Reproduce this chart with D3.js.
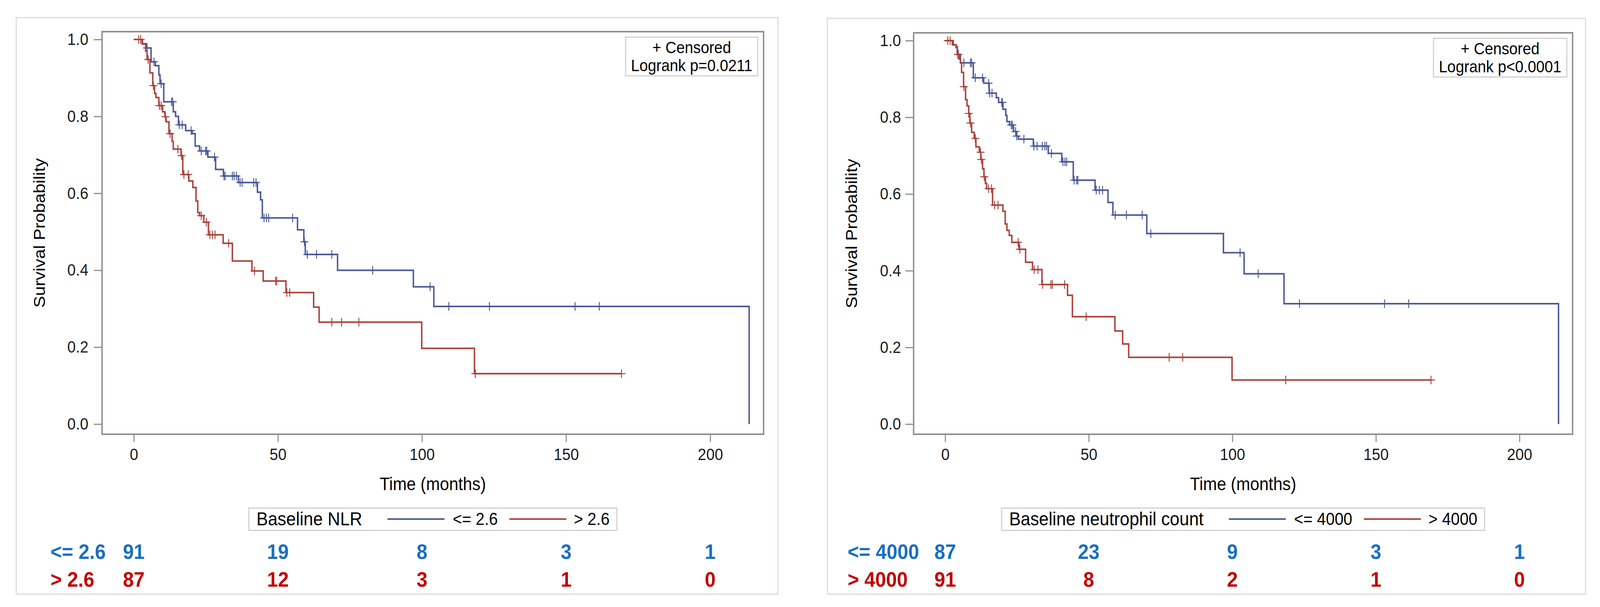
<!DOCTYPE html>
<html>
<head>
<meta charset="utf-8">
<script src="https://cdn.jsdelivr.net/npm/d3@7"></script>
<style>
  html, body { margin: 0; padding: 0; background: #fff; overflow: hidden; }
  svg { display: block; width: 100vw; height: 100vh; }
  svg text { font-family: "Liberation Sans", Arial, sans-serif; }
</style>
</head>
<body>
<div id="chart"></div>
<script>
// ---- data ----
const timeTicks = [0, 50, 100, 150, 200];
const survTicks = [0, 0.2, 0.4, 0.6, 0.8, 1.0];

// Baseline NLR, <= 2.6  [time, survival after step]
const nlrLowSteps = [[0,1.0],[3.0,0.989],[4.4,0.978],[6.0,0.942],[7.5,0.932],[8.7,0.908],[9.1,0.885],[10.4,0.838],
  [13.7,0.812],[14.5,0.800],[15.5,0.778],[18.0,0.763],[20.3,0.755],[21.3,0.723],[22.8,0.710],[25.7,0.694],
  [28.4,0.662],[31.1,0.645],[36.3,0.628],[42.9,0.603],[44.0,0.583],[44.6,0.536],[56.8,0.505],[59.0,0.474],
  [59.5,0.441],[70.7,0.400],[97.0,0.357],[104.1,0.306],[213.5,0.0]];
const nlrLowCensor = [4.6, 7.0, 9.5, 13.1, 13.5, 15.8, 16.8, 19.9, 23.4, 24.9, 25.3, 28.0, 31.3, 31.7, 34.2, 34.8,
  35.6, 36.9, 37.6, 41.6, 42.4, 45.2, 46.0, 46.8, 55.1, 59.2, 60.2, 63.4, 68.7, 82.9, 102.8, 109.3, 123.4, 153.1, 161.5];

// Baseline NLR, > 2.6
const nlrHighSteps = [[0,1.0],[2.9,0.988],[4.1,0.970],[4.6,0.948],[5.6,0.913],[6.6,0.880],[7.2,0.860],[7.7,0.849],
  [8.7,0.828],[10.0,0.812],[10.8,0.799],[11.2,0.786],[12.2,0.755],[13.3,0.735],[13.7,0.715],[16.4,0.698],
  [17.0,0.649],[19.1,0.632],[20.5,0.615],[21.6,0.580],[22.2,0.550],[22.8,0.542],[24.3,0.525],[25.9,0.492],
  [31.0,0.470],[34.2,0.424],[41.0,0.398],[44.9,0.372],[52.8,0.342],[62.4,0.304],[64.3,0.265],[99.9,0.197],
  [118.2,0.131],[169.2,0.131]];
const nlrHighCensor = [1.7, 2.4, 5.0, 6.8, 8.9, 9.5, 11.0, 12.6, 15.3, 16.6, 17.4, 18.9, 23.4, 25.2, 26.4, 27.3,
  28.2, 32.9, 41.9, 49.2, 49.6, 53.1, 54.1, 68.7, 72.1, 78.1, 118.5, 169.2];

// Baseline neutrophil count, <= 4000
const neuLowSteps = [[0,1.0],[2.8,0.989],[3.8,0.982],[4.2,0.964],[5.3,0.942],[9.8,0.903],[13.4,0.889],[15.3,0.863],
  [17.8,0.851],[18.6,0.839],[20.1,0.821],[21.1,0.805],[21.5,0.789],[22.4,0.780],[23.8,0.763],[24.9,0.751],
  [25.5,0.743],[30.7,0.725],[35.9,0.706],[40.6,0.684],[44.6,0.636],[52.2,0.610],[56.7,0.578],[58.4,0.545],
  [70.2,0.497],[96.9,0.447],[104.1,0.392],[118.0,0.314],[213.6,0.0]];
const neuLowCensor = [4.6, 6.5, 8.8, 9.2, 10.5, 13.0, 15.1, 15.5, 16.3, 19.7, 19.9, 23.0, 23.4, 24.5, 24.9, 27.4,
  30.9, 32.0, 33.8, 34.7, 35.3, 37.0, 41.0, 41.7, 42.3, 44.9, 45.8, 46.2, 52.6, 53.7, 54.8, 59.2, 63.1, 68.6, 71.6,
  102.7, 109.0, 123.4, 153.0, 161.4];

// Baseline neutrophil count, > 4000
const neuHighSteps = [[0,1.0],[2.5,0.989],[3.8,0.984],[4.2,0.964],[4.8,0.952],[5.3,0.942],[5.7,0.917],[6.4,0.880],
  [7.1,0.846],[7.6,0.830],[8.2,0.810],[8.6,0.785],[9.2,0.761],[10.1,0.745],[10.7,0.723],[11.9,0.709],[12.4,0.690],
  [13.0,0.666],[13.5,0.645],[14.0,0.628],[14.4,0.614],[16.5,0.571],[20.1,0.555],[20.9,0.522],[21.5,0.505],
  [22.3,0.492],[23.2,0.474],[25.7,0.456],[28.0,0.422],[30.4,0.403],[33.7,0.364],[42.6,0.336],[44.3,0.280],
  [59.1,0.243],[61.8,0.209],[63.9,0.174],[99.9,0.115],[169.2,0.115]];
const neuHighCensor = [0.9, 1.7, 4.4, 6.5, 8.2, 8.8, 10.5, 12.3, 12.6, 13.6, 15.1, 16.1, 17.2, 18.4, 25.4, 26.0,
  31.0, 32.3, 33.9, 36.8, 37.3, 41.6, 49.1, 78.0, 82.7, 118.6, 169.2];

// numbers at risk at 0, 50, 100, 150, 200 months
const nlrRiskLow = [91, 19, 8, 3, 1];
const nlrRiskHigh = [87, 12, 3, 1, 0];
const neuRiskLow = [87, 23, 9, 3, 1];
const neuRiskHigh = [91, 8, 2, 1, 0];

// ---- drawing ----
const blue = "#4a5897", red = "#a8423a";
const riskBlue = "#1a6fc0", riskRed = "#c00000";
const frameGrey = "#8f8f8f";

// drawn in a fixed 4436x1553 coordinate space, stretched to fill the window
const svg = d3.select("#chart").append("svg")
  .attr("viewBox", "0 0 4436 1553")
  .attr("preserveAspectRatio", "none");

function drawPanel(p){
  const g = svg.append("g");

  // outer panel border
  g.append("rect")
    .attr("x", p.box[0]).attr("y", p.box[1])
    .attr("width", p.box[2] - p.box[0]).attr("height", p.box[3] - p.box[1])
    .attr("fill", "none").attr("stroke", "#dadada").attr("stroke-width", 3);

  const xScale = d3.scaleLinear().domain([-11, 218.5]).range([p.left, p.right]);
  const yScale = d3.scaleLinear().domain([-0.0264, 1.0203]).range([p.bottom, p.top]);

  const yAxis = d3.axisLeft(yScale).tickValues(survTicks).tickFormat(d3.format(".1f"))
    .tickSize(23).tickPadding(p.yPad);
  const xAxis = d3.axisBottom(xScale).tickValues(timeTicks).tickSize(20).tickPadding(16);

  const y_axis = g.append("g").attr("transform", `translate(${p.left},0)`).call(yAxis);
  const x_axis = g.append("g").attr("transform", `translate(0,${p.bottom})`).call(xAxis);
  [x_axis, y_axis].forEach(ax => {
    ax.select(".domain").remove();
    ax.selectAll(".tick line").attr("stroke", frameGrey).attr("stroke-width", 3);
    ax.selectAll(".tick text").attr("font-size", 42).attr("fill", "#1a1a1a")
      .attr("font-family", "Liberation Sans, Arial, sans-serif");
  });

  // plot frame
  g.append("rect")
    .attr("x", p.left).attr("y", p.top)
    .attr("width", p.right - p.left).attr("height", p.bottom - p.top)
    .attr("fill", "none").attr("stroke", frameGrey).attr("stroke-width", 4);

  const line = d3.line().x(d => xScale(d[0])).y(d => yScale(d[1])).curve(d3.curveStepAfter);
  const bis = d3.bisector(d => d[0]).right;

  p.curves.forEach(c => {
    g.append("path").datum(c.steps)
      .attr("d", line).attr("fill", "none")
      .attr("stroke", c.color).attr("stroke-width", 4);

    const marks = c.censor.map(t => {
      const i = Math.max(0, bis(c.steps, t) - 1);
      return [xScale(t), yScale(c.steps[i][1])];
    });
    g.append("g").selectAll("path").data(marks).join("path")
      .attr("d", d => `M${d[0]-11},${d[1]}H${d[0]+11}M${d[0]},${d[1]-11}V${d[1]+11}`)
      .attr("stroke", c.color).attr("stroke-width", 2.5).attr("fill", "none");
  });

  // inset legend (top right)
  const inset = g.append("g");
  const t1 = inset.append("text").text("+ Censored").attr("font-size", 42).attr("text-anchor", "middle");
  const t2 = inset.append("text").text(p.logrank).attr("font-size", 42).attr("text-anchor", "middle");
  const iw = Math.max(t1.node().getComputedTextLength(), t2.node().getComputedTextLength()) + 30;
  const ix = p.right - 16 - iw, iy = p.top + 14;
  inset.insert("rect", "text")
    .attr("x", ix).attr("y", iy).attr("width", iw).attr("height", 99)
    .attr("fill", "#fff").attr("stroke", "#cfcfcf").attr("stroke-width", 3);
  t1.attr("x", ix + iw / 2).attr("y", iy + 41);
  t2.attr("x", ix + iw / 2).attr("y", iy + 87);

  // axis titles
  g.append("text").text("Time (months)")
    .attr("x", (p.left + p.right) / 2).attr("y", 1254)
    .attr("text-anchor", "middle").attr("font-size", 46);
  g.append("text").text("Survival Probability")
    .attr("transform", `translate(${p.ytitleX},${(p.top + p.bottom) / 2}) rotate(-90)`)
    .attr("text-anchor", "middle").attr("font-size", 45);

  // group legend under the axis
  const leg = g.append("g");
  const lt = leg.append("text").text(p.legendTitle).attr("font-size", 48).attr("y", 1344);
  const l1 = leg.append("text").text(p.labels[0]).attr("font-size", 44).attr("y", 1343);
  const l2 = leg.append("text").text(p.labels[1]).attr("font-size", 44).attr("y", 1343);
  const wT = lt.node().getComputedTextLength();
  const w1 = l1.node().getComputedTextLength();
  const w2 = l2.node().getComputedTextLength();
  const segW = 158;
  const total = 21 + wT + 70 + segW + 23 + w1 + 32 + segW + 21 + w2 + 20;
  let cx = (p.left + p.right) / 2 - total / 2;
  leg.insert("rect", "text")
    .attr("x", cx).attr("y", 1300).attr("width", total).attr("height", 57)
    .attr("fill", "#fff").attr("stroke", "#cfcfcf").attr("stroke-width", 3);
  lt.attr("x", cx + 21);
  let sx = cx + 21 + wT + 70;
  leg.append("line").attr("x1", sx).attr("x2", sx + segW).attr("y1", 1328).attr("y2", 1328)
    .attr("stroke", blue).attr("stroke-width", 4);
  l1.attr("x", sx + segW + 23);
  sx = sx + segW + 23 + w1 + 32;
  leg.append("line").attr("x1", sx).attr("x2", sx + segW).attr("y1", 1328).attr("y2", 1328)
    .attr("stroke", red).attr("stroke-width", 4);
  l2.attr("x", sx + segW + 21);

  // numbers at risk
  const rows = [
    {label: p.labels[0], vals: p.riskLow, color: riskBlue, y: 1430},
    {label: p.labels[1], vals: p.riskHigh, color: riskRed, y: 1501}
  ];
  rows.forEach(r => {
    const rg = g.append("g").attr("fill", r.color).attr("font-weight", "bold")
      .attr("font-size", 54).style("font-family", "Lato, 'Open Sans', sans-serif");
    rg.append("text").text(r.label).attr("x", p.riskLabelX).attr("y", r.y);
    rg.selectAll("text.n").data(r.vals).join("text").attr("class", "n")
      .attr("x", (d, i) => xScale(timeTicks[i])).attr("y", r.y)
      .attr("text-anchor", "middle").text(d => d);
  });
}

drawPanel({
  box: [45, 45, 2157, 1520],
  left: 283, right: 2117, top: 81, bottom: 1111, yPad: 15, ytitleX: 125,
  logrank: "Logrank p=0.0211",
  legendTitle: "Baseline NLR",
  labels: ["<= 2.6", "> 2.6"],
  riskLow: nlrRiskLow, riskHigh: nlrRiskHigh, riskLabelX: 140,
  curves: [
    {steps: nlrLowSteps, censor: nlrLowCensor, color: blue},
    {steps: nlrHighSteps, censor: nlrHighCensor, color: red}
  ]
});

drawPanel({
  box: [2294, 47, 4396, 1520],
  left: 2533, right: 4360, top: 84, bottom: 1111, yPad: 12, ytitleX: 2376,
  logrank: "Logrank p<0.0001",
  legendTitle: "Baseline neutrophil count",
  labels: ["<= 4000", "> 4000"],
  riskLow: neuRiskLow, riskHigh: neuRiskHigh, riskLabelX: 2350,
  curves: [
    {steps: neuLowSteps, censor: neuLowCensor, color: blue},
    {steps: neuHighSteps, censor: neuHighCensor, color: red}
  ]
});
</script>
</body>
</html>
